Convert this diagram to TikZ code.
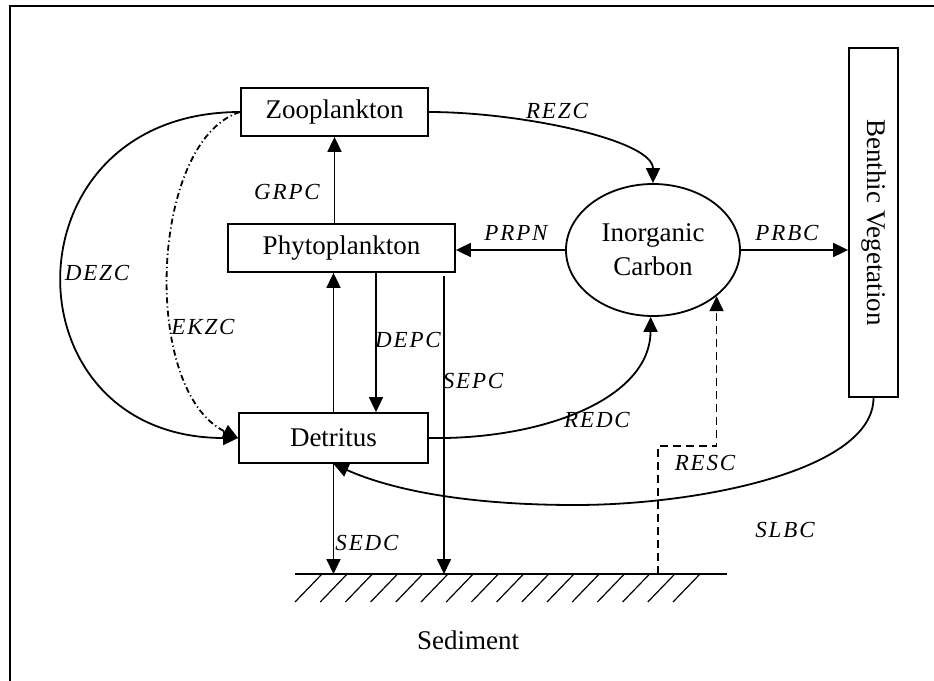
\documentclass[tikz,border=0pt]{standalone}
\usepackage{fontspec}
\setmainfont{Liberation Serif}
\newfontfamily\fluxfont[LetterSpace=8]{Liberation Serif}
\usetikzlibrary{arrows.meta,shapes.geometric}
\tikzstyle{pool}=[rectangle, draw, line width=0.9pt, inner sep=0pt, font=\fontsize{13.5}{17}\selectfont]
\tikzstyle{flux}=[inner sep=0pt, font=\fluxfont\itshape\fontsize{11.5}{14}\selectfont]
\tikzstyle{ekz}=[dash pattern=on 3pt off 1.5pt on 0.6pt off 1.5pt]
\tikzstyle{res}=[dash pattern=on 4pt off 2.5pt]

\begin{document}
\begin{tikzpicture}[x=0.5pt, y=-0.5pt, line width=0.9pt, >={Triangle[length=7.5pt, width=7pt]}]
                \useasboundingbox (0,0) rectangle (934,681);
                \draw[line width=1.1pt] (10,681) -- (10,6) -- (934,6);
                % pools
                \node[pool, minimum width=93.5pt, minimum height=24pt] (zoo) at (334.5,112) {Zooplankton};
                \node[pool, minimum width=113.5pt, minimum height=24pt] (phy) at (341.5,248) {Phytoplankton};
                \node[pool, minimum width=94.5pt, minimum height=25pt] (det) at (333.5,438) {Detritus};
                \node[pool, ellipse, minimum width=87pt, minimum height=66pt, align=center] (ic) at (653,250) {Inorganic\\Carbon};
                \node[pool, minimum width=24.5pt, minimum height=174.5pt] (bv) at (873.5,222.5) {};
                \node[rotate=-90, font=\fontsize{13.5}{17}\selectfont] (bvt) at (bv.center) {Benthic Vegetation};
                % sediment
                \coordinate (sedl) at (295,574);
                \coordinate (sedr) at (727,574);
                \draw (sedl) -- (sedr);
                \foreach \i in {0,...,15}
                    \draw[line width=0.6pt] (295+25.2*\i,602) -- ++(27,-28);
                \node[font=\fontsize{13.5}{17}\selectfont] (sed) at (468,640) {Sediment};
                % fluxes
                \draw[->] (zoo.east) .. controls (520,112) and (653,140) .. (ic.north);
                \draw[->] (ic.west) -- (ic.west -| phy.east);
                \draw[->] (ic.east) -- (ic.east -| bv.west);
                \draw[->] (zoo.south |- phy.north) -- (zoo.south);
                \draw[->] (det.north) -- (det.north |- phy.south);
                \draw[->] (376,0 |- phy.south) -- (376,0 |- det.north);
                \coordinate (sp) at (444,276);
                \draw[->] (sp) -- (sp |- sedl);
                \draw[->] (det.south) -- (det.south |- sedl);
                \draw[->] (det.east) .. controls (540,440) and (650,400) .. (ic.-92);
                \coordinate (rs) at (658,574);
                \draw[res, ->] (rs) -- ++(0,-128) -| (ic.-36);
                \draw[->] (bv.south) .. controls (873.5,470) and (700,505) .. (575,505)
                    .. controls (450,505) and (380,485) .. (det.south);
                \draw[->] (zoo.west) .. controls (3,112) and (3,438) .. (det.west);
                \draw[ekz, ->] (zoo.west) .. controls (150,140) and (140,390) .. (det.west);
                % labels
                \node[flux] (grpc) at (287,192) {GRPC};
                \node[flux] (prpn) at (516,233) {PRPN};
                \node[flux] (prbc) at (787,233) {PRBC};
                \node[flux] (rezc) at (557,111) {REZC};
                \node[flux] (dezc) at (97,273) {DEZC};
                \node[flux] (ekzc) at (203,327) {EKZC};
                \node[flux] (depc) at (408,340) {DEPC};
                \node[flux] (sepc) at (473,381) {SEPC};
                \node[flux] (redc) at (597,420) {REDC};
                \node[flux] (resc) at (705,463) {RESC};
                \node[flux] (slbc) at (785,530) {SLBC};
                \node[flux] (sedc) at (367,543) {SEDC};
            \end{tikzpicture}
\end{document}
